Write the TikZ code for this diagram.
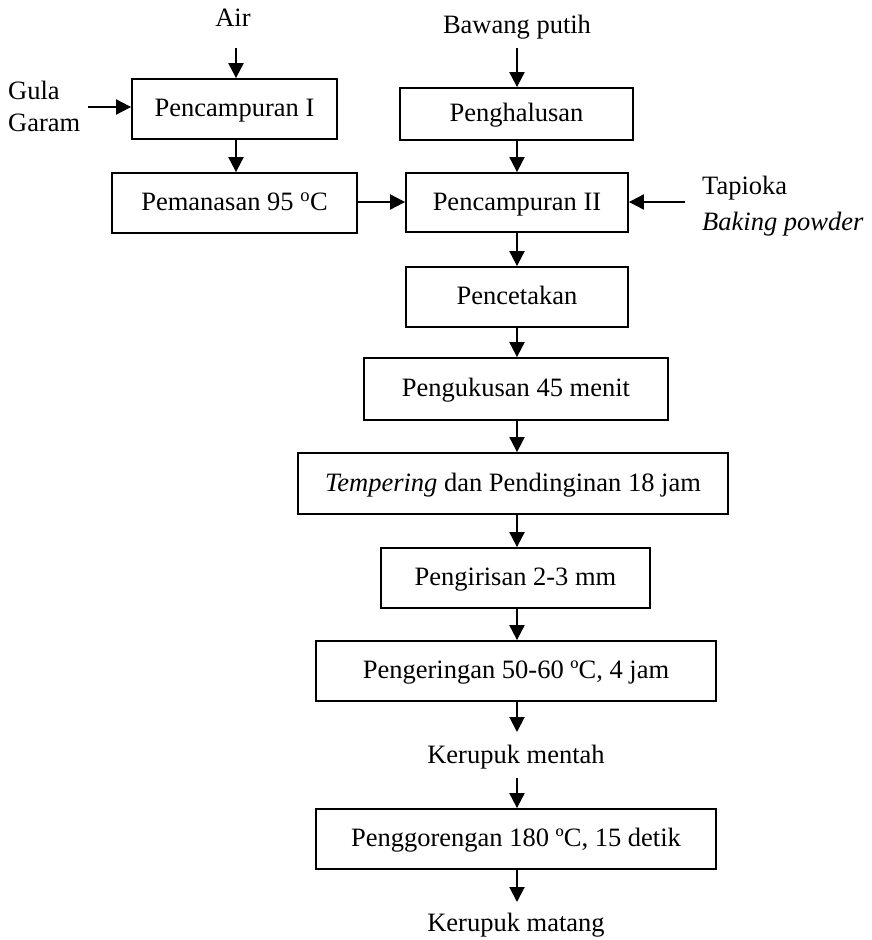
\documentclass[tikz,border=0pt]{standalone}
\usepackage{fontspec}
\setmainfont{Liberation Serif}
\usetikzlibrary{arrows.meta}
\begin{document}
\begin{tikzpicture}[x=1pt,y=-1pt,
  font=\fontsize{26.5}{32}\selectfont,
  box/.style={draw,line width=1.8pt,inner sep=0pt,minimum height=60pt,text height=19pt,text depth=4pt},
  lbl/.style={inner sep=0pt},
  arr/.style={line width=2pt,-{Triangle[width=15pt,length=15pt]}}]
\useasboundingbox (0,0) rectangle (871,940);
% boxes
\node[box,minimum width=205pt] (p1) at (234.5,109) {Pencampuran I};
\node[box,minimum width=245pt] (pem) at (234.5,203) {Pemanasan 95 \textsuperscript{o}C};
\node[box,minimum width=233pt,minimum height=52pt] (hal) at (516.5,114) {Penghalusan};
\node[box,minimum width=222pt,minimum height=59pt] (p2) at (517,202.5) {Pencampuran II};
\node[box,minimum width=222pt] (cet) at (517,297) {Pencetakan};
\node[box,minimum width=304pt,minimum height=62pt] (kus) at (516,389) {Pengukusan 45 menit};
\node[box,minimum width=430pt,minimum height=61pt] (temp) at (513,483.5) {\textit{Tempering} dan Pendinginan 18 jam};
\node[box,minimum width=269pt] (iris) at (515.5,578) {Pengirisan 2-3 mm};
\node[box,minimum width=400pt] (ker) at (516,671) {Pengeringan 50-60 ºC, 4 jam};
\node[box,minimum width=400pt] (gor) at (516,839) {Penggorengan 180 ºC, 15 detik};
% labels
\node[lbl] (air) at (233,18) {Air};
\node[lbl] (bawang) at (517,27) {Bawang putih};
\node[lbl,anchor=west,align=left] (gula) at (8,106) {Gula\\Garam};
\node[lbl,anchor=west,align=left,font=\fontsize{26.5}{36}\selectfont] (tap) at (702,206) {Tapioka\\\textit{Baking powder}};
\node[lbl] (mentah) at (516,757) {Kerupuk mentah};
\node[lbl] (matang) at (516,925) {Kerupuk matang};
% arrow start / end points
\coordinate (airS) at (236,48);
\coordinate (bawS) at (517,48);
\coordinate (gulaS) at (88,107);
\coordinate (tapS) at (685,202);
\coordinate (menS) at (517,778);
\coordinate (matE) at (517,902);
\coordinate (kerE) at (517,732);
% connectors
\draw[arr] (airS) -- (airS |- p1.north);
\draw[arr] (bawS) -- (bawS |- hal.north);
\draw[arr] (gulaS) -- (gulaS -| p1.west);
\draw[arr] (p1.south -| airS) -- (airS |- pem.north);
\draw[arr] (pem.east |- tapS) -- (tapS -| p2.west);
\draw[arr] (tapS) -- (tapS -| p2.east);
\draw[arr] (hal.south -| bawS) -- (bawS |- p2.north);
\draw[arr] (p2.south -| bawS) -- (bawS |- cet.north);
\draw[arr] (cet.south -| bawS) -- (bawS |- kus.north);
\draw[arr] (kus.south -| bawS) -- (bawS |- temp.north);
\draw[arr] (temp.south -| bawS) -- (bawS |- iris.north);
\draw[arr] (iris.south -| bawS) -- (bawS |- ker.north);
\draw[arr] (ker.south -| bawS) -- (kerE);
\draw[arr] (menS) -- (menS |- gor.north);
\draw[arr] (gor.south -| bawS) -- (matE);
\end{tikzpicture}
\end{document}
